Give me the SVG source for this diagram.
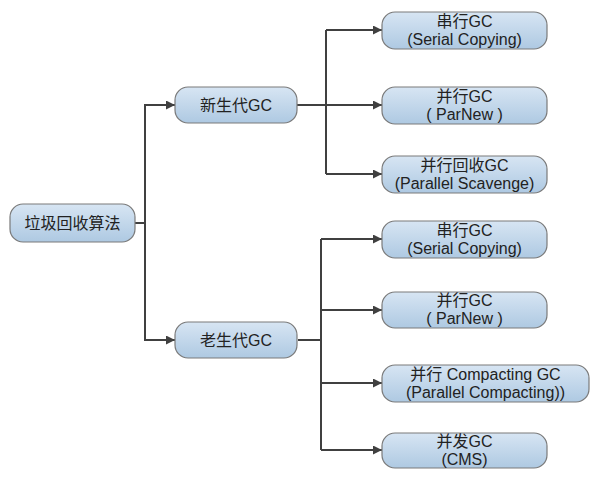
<svg xmlns="http://www.w3.org/2000/svg" width="601" height="480" viewBox="0 0 601 480">
<defs>
<linearGradient id="g" x1="0" y1="0" x2="0" y2="1">
<stop offset="0" stop-color="#d7e5f3"/>
<stop offset="1" stop-color="#aec9e2"/>
</linearGradient>
<marker id="a" viewBox="0 0 10 10" refX="10" refY="5" markerWidth="4.5" markerHeight="4.5" orient="auto" markerUnits="strokeWidth">
<path d="M0,0 L10,5 L0,10 Z" fill="#404040"/>
</marker>
<style>
.n rect{fill:url(#g);stroke:#7a7a7a;stroke-width:1.2}
.n text{font-family:"Liberation Sans","Noto Sans CJK SC",sans-serif;font-size:16px;fill:#222;text-anchor:middle}
.c path{fill:none;stroke:#404040;stroke-width:2}
.c .h{marker-end:url(#a)}
</style>
</defs>
<rect width="601" height="480" fill="#fff"/>
<g class="c">
<path d="M135,223 H145"/>
<path d="M145,104 V341"/>
<path class="h" d="M145,105 H175"/>
<path class="h" d="M145,340 H175"/>
<path d="M297,105 H326"/>
<path d="M326,30 V174"/>
<path class="h" d="M326,30 H382"/>
<path class="h" d="M326,105 H382"/>
<path class="h" d="M326,174 H382"/>
<path d="M298,340 H321"/>
<path d="M321,239 V450"/>
<path class="h" d="M321,239 H382"/>
<path class="h" d="M321,310 H382"/>
<path class="h" d="M321,383 H382"/>
<path class="h" d="M321,450 H382"/>
</g>
<g id="root" class="n"><rect x="10" y="204" width="125" height="38" rx="13"/><text x="72.5" y="229">垃圾回收算法</text></g>
<g id="young" class="n"><rect x="175" y="87" width="122" height="36" rx="13"/><text x="236" y="111">新生代GC</text></g>
<g id="old" class="n"><rect x="175" y="322" width="122" height="36" rx="13"/><text x="236" y="346">老生代GC</text></g>
<g id="y1" class="n"><rect x="382" y="12" width="165" height="37" rx="13"/><text x="464.5" y="27">串行GC</text><text x="464.5" y="45">(Serial Copying)</text></g>
<g id="y2" class="n"><rect x="382" y="87" width="165" height="37" rx="13"/><text x="464.5" y="102">并行GC</text><text x="464.5" y="120">( ParNew )</text></g>
<g id="y3" class="n"><rect x="382" y="156" width="165" height="37" rx="13"/><text x="464.5" y="171">并行回收GC</text><text x="464.5" y="189">(Parallel Scavenge)</text></g>
<g id="o1" class="n"><rect x="382" y="221" width="165" height="37" rx="13"/><text x="464.5" y="236">串行GC</text><text x="464.5" y="254">(Serial Copying)</text></g>
<g id="o2" class="n"><rect x="382" y="292" width="165" height="36" rx="13"/><text x="464.5" y="306">并行GC</text><text x="464.5" y="324">( ParNew )</text></g>
<g id="o3" class="n"><rect x="382" y="365" width="207" height="37" rx="13"/><text x="485.5" y="380">并行 Compacting GC</text><text x="485.5" y="398">(Parallel Compacting))</text></g>
<g id="o4" class="n"><rect x="382" y="433" width="165" height="35" rx="13"/><text x="464.5" y="447">并发GC</text><text x="464.5" y="465">(CMS)</text></g>
</svg>
